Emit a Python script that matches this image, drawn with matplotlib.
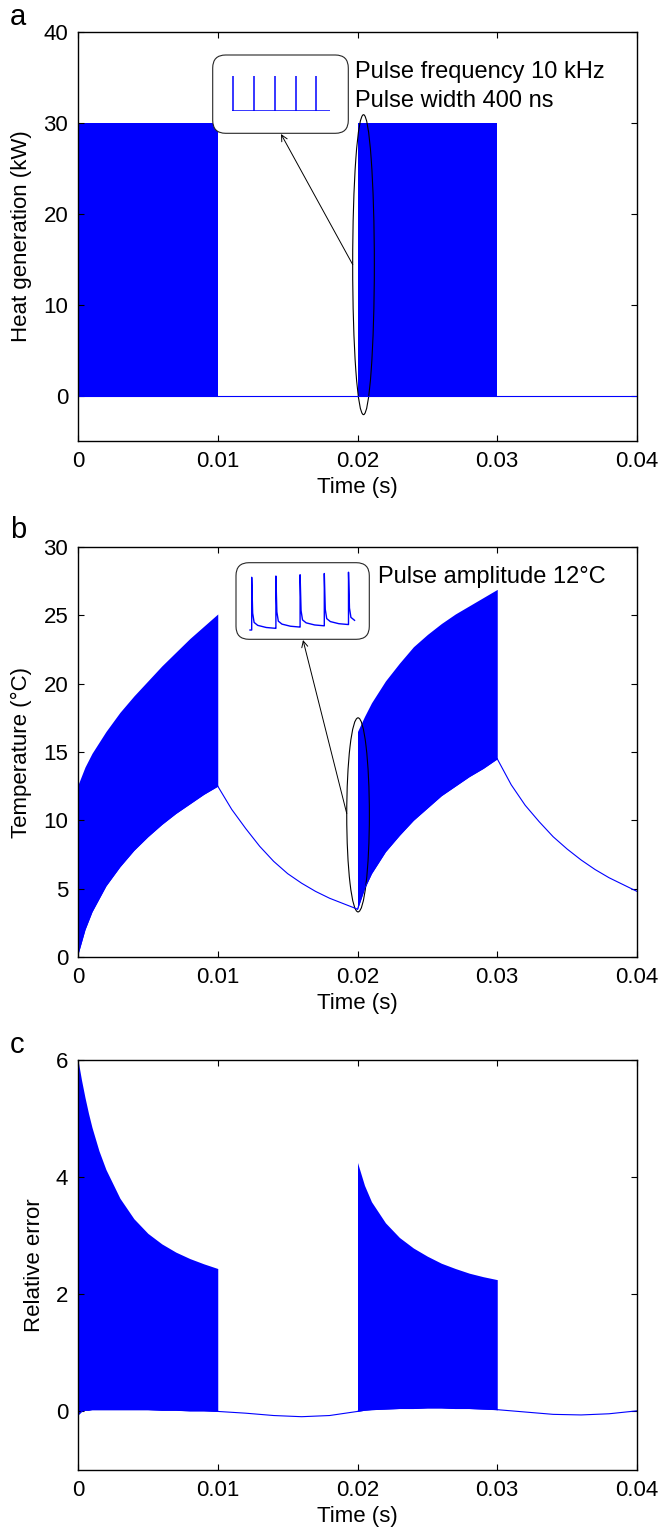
import matplotlib
matplotlib.use("Agg")
import matplotlib.pyplot as plt
from matplotlib.patches import Ellipse, FancyBboxPatch

plt.rcParams["font.family"] = ["Liberation Sans", "DejaVu Sans"]

BLUE = "#0000FF"
W, H = 659, 1535

# shared x axis
time_ticks = [0, 0.01, 0.02, 0.03, 0.04]
time_labels = ["0", "0.01", "0.02", "0.03", "0.04"]

# (a) heat generation, pulse blocks (kW)
heat_start = [0.0, 0.02]
heat_end = [0.01, 0.03]
heat_peak = 30
heat_base = 0

# (b) temperature, pulsing intervals: lower / upper envelope (°C)
temp_t1 = [0, 0.0005, 0.001, 0.002, 0.003, 0.004, 0.005, 0.006, 0.007, 0.008, 0.009, 0.010]
temp_low1 = [0.2, 2.0, 3.3, 5.2, 6.6, 7.8, 8.8, 9.7, 10.5, 11.2, 11.9, 12.5]
temp_high1 = [12.6, 13.9, 14.9, 16.5, 17.9, 19.1, 20.2, 21.3, 22.3, 23.3, 24.2, 25.1]
temp_t2 = [0.020, 0.0205, 0.021, 0.022, 0.023, 0.024, 0.025, 0.026, 0.027, 0.028, 0.029, 0.030]
temp_low2 = [3.5, 5.0, 6.1, 7.7, 8.9, 10.0, 10.9, 11.8, 12.5, 13.2, 13.8, 14.5]
temp_high2 = [16.5, 17.6, 18.6, 20.2, 21.5, 22.7, 23.6, 24.4, 25.1, 25.7, 26.3, 26.9]
# (b) cooling intervals
cool_t1 = [0.010, 0.011, 0.012, 0.013, 0.014, 0.015, 0.016, 0.017, 0.018, 0.019, 0.020]
cool_v1 = [12.5, 10.8, 9.4, 8.1, 7.0, 6.1, 5.4, 4.8, 4.3, 3.9, 3.5]
cool_t2 = [0.030, 0.031, 0.032, 0.033, 0.034, 0.035, 0.036, 0.037, 0.038, 0.039, 0.040]
cool_v2 = [14.5, 12.6, 11.1, 9.9, 8.8, 7.9, 7.1, 6.4, 5.8, 5.3, 4.8]

# (c) relative error, pulsing intervals
err_t1 = [0, 0.00025, 0.0005, 0.00075, 0.001, 0.0015, 0.002, 0.003, 0.004, 0.005,
          0.006, 0.007, 0.008, 0.009, 0.010]
err_low1 = [-0.06, 0.0, 0.02, 0.02, 0.03, 0.03, 0.03, 0.03, 0.03, 0.03,
            0.02, 0.02, 0.01, 0.01, 0.0]
err_high1 = [6.0, 5.66, 5.36, 5.09, 4.85, 4.45, 4.13, 3.64, 3.29, 3.04,
             2.86, 2.72, 2.61, 2.52, 2.44]
err_t2 = [0.020, 0.0205, 0.021, 0.022, 0.023, 0.024, 0.025, 0.026, 0.027, 0.028, 0.029, 0.030]
err_low2 = [0.0, 0.02, 0.03, 0.04, 0.05, 0.05, 0.06, 0.06, 0.05, 0.05, 0.04, 0.03]
err_high2 = [4.25, 3.86, 3.58, 3.22, 2.97, 2.79, 2.65, 2.53, 2.44, 2.36, 2.30, 2.25]
# (c) between pulse trains
err_off_t1 = [0.010, 0.012, 0.014, 0.016, 0.018, 0.020]
err_off_v1 = [0.0, -0.03, -0.07, -0.09, -0.07, 0.0]
err_off_t2 = [0.030, 0.032, 0.034, 0.036, 0.038, 0.040]
err_off_v2 = [0.03, -0.01, -0.05, -0.06, -0.04, 0.01]

# zoomed insets (time in pulse periods)
ins_a_t = [0, 1, 2, 3, 4]
ins_a_peak = 30
ins_b_t = [-0.07, 0, 0, 0.04, 0.1, 0.25, 0.6, 0.99,
           1, 1, 1.04, 1.1, 1.25, 1.6, 1.99,
           2, 2, 2.04, 2.1, 2.25, 2.6, 2.99,
           3, 3, 3.04, 3.1, 3.25, 3.6, 3.99,
           4, 4, 4.04, 4.1, 4.25]
ins_b_v = [3.5, 3.5, 16.0, 7.5, 5.3, 4.6, 4.1, 3.9,
           3.9, 16.3, 7.8, 5.6, 4.9, 4.4, 4.2,
           4.2, 16.6, 8.1, 5.9, 5.2, 4.7, 4.5,
           4.5, 16.9, 8.4, 6.2, 5.5, 5.0, 4.8,
           4.8, 17.2, 8.7, 6.5, 5.8]


def px_rect(x0, y0, x1, y1):
    return [x0 / W, 1 - y1 / H, (x1 - x0) / W, (y1 - y0) / H]


def style_axes(ax, ylim, yticks, ylabel):
    ax.set_xlim(0, 0.04)
    ax.set_ylim(*ylim)
    ax.set_xticks(time_ticks)
    ax.set_xticklabels(time_labels)
    ax.set_yticks(yticks)
    ax.tick_params(direction="in", top=True, right=True, length=4, width=0.8,
                   labelsize=16, pad=7)
    for sp in ax.spines.values():
        sp.set_linewidth(1.0)
    ax.set_xlabel("Time (s)", fontsize=16, labelpad=4)
    ax.set_ylabel(ylabel, fontsize=16, labelpad=8)


def add_box(fig, x0, y0, x1, y1):
    box = FancyBboxPatch((x0 / 100, (H - y1) / 100), (x1 - x0) / 100, (y1 - y0) / 100,
                         boxstyle="round,pad=0,rounding_size=0.13",
                         transform=fig.dpi_scale_trans, fc="white", ec="0.15",
                         lw=0.8, zorder=2)
    fig.add_artist(box)


fig = plt.figure(figsize=(W / 100, H / 100), dpi=100)

# ---- (a)
ax_a = fig.add_axes(px_rect(78, 32, 637, 441))
for s, e in zip(heat_start, heat_end):
    ax_a.fill_between([s, e], [heat_base, heat_base], [heat_peak, heat_peak],
                      color=BLUE, lw=0)
ax_a.axhline(heat_base, color=BLUE, lw=0.8)
style_axes(ax_a, (-5, 40), [0, 10, 20, 30, 40], "Heat generation (kW)")
ax_a.add_patch(Ellipse((0.02043, 14.4), 0.00155, 33.0, fill=False, ec="black", lw=0.8))
ax_a.annotate("", xy=(281 / W, 1 - 134 / H), xycoords="figure fraction",
              xytext=(0.01966, 14.4), textcoords="data",
              arrowprops=dict(arrowstyle="->", lw=0.7, color="black",
                              shrinkA=0, shrinkB=0, mutation_scale=11))

# ---- (b)
ax_b = fig.add_axes(px_rect(78, 547, 637, 957))
ax_b.fill_between(temp_t1, temp_low1, temp_high1, color=BLUE, lw=0)
ax_b.fill_between(temp_t2, temp_low2, temp_high2, color=BLUE, lw=0)
for t, v in [(temp_t1, temp_low1), (cool_t1, cool_v1), (temp_t2, temp_low2), (cool_t2, cool_v2)]:
    ax_b.plot(t, v, color=BLUE, lw=0.8)
style_axes(ax_b, (0, 30), [0, 5, 10, 15, 20, 25, 30], "Temperature (°C)")
ax_b.add_patch(Ellipse((0.02004, 10.4), 0.00162, 14.2, fill=False, ec="black", lw=0.8))
ax_b.annotate("", xy=(303 / W, 1 - 640 / H), xycoords="figure fraction",
              xytext=(0.01923, 10.5), textcoords="data",
              arrowprops=dict(arrowstyle="->", lw=0.7, color="black",
                              shrinkA=0, shrinkB=0, mutation_scale=11))

# ---- (c)
ax_c = fig.add_axes(px_rect(78, 1060, 637, 1470))
ax_c.fill_between(err_t1, err_low1, err_high1, color=BLUE, lw=0)
ax_c.fill_between(err_t2, err_low2, err_high2, color=BLUE, lw=0)
for t, v in [(err_t1, err_low1), (err_off_t1, err_off_v1), (err_t2, err_low2), (err_off_t2, err_off_v2)]:
    ax_c.plot(t, v, color=BLUE, lw=0.8)
style_axes(ax_c, (-1, 6), [0, 2, 4, 6], "Relative error")

# ---- insets
add_box(fig, 212.7, 55, 348.3, 133.3)
ins_a = fig.add_axes(px_rect(231.7, 76, 330, 111), zorder=3)
ins_a.vlines(ins_a_t, 0, ins_a_peak, color=BLUE, lw=1.1)
ins_a.axhline(0, color=BLUE, lw=1.1)
ins_a.set_xlim(-0.08, 4.65)
ins_a.set_ylim(0, 30)
ins_a.axis("off")
ins_a.patch.set_alpha(0)

add_box(fig, 236, 562.7, 369.3, 639.3)
ins_b = fig.add_axes(px_rect(250, 570, 356, 632), zorder=3)
ins_b.plot(ins_b_t, ins_b_v, color=BLUE, lw=1.0, clip_on=False)
ins_b.set_xlim(-0.07, 4.31)
ins_b.set_ylim(3.03, 17.73)
ins_b.axis("off")
ins_b.patch.set_alpha(0)

# ---- annotations
fig.text(355 / W, 1 - 72 / H, "Pulse frequency 10 kHz", fontsize=17, va="center")
fig.text(355 / W, 1 - 101 / H, "Pulse width 400 ns", fontsize=17, va="center")
fig.text(378 / W, 1 - 577 / H, "Pulse amplitude 12°C", fontsize=17, va="center")

for lbl, y in [("a", 17), ("b", 530), ("c", 1045)]:
    fig.text(10 / W, 1 - y / H, lbl, fontsize=21, va="center")

fig.savefig("out.png", dpi=100)
